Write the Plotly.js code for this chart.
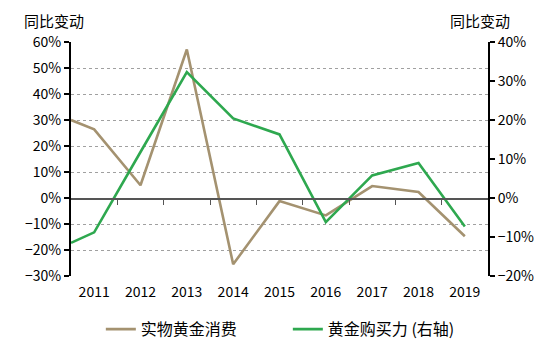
<!DOCTYPE html>
<html><head><meta charset="utf-8">
<script src="https://cdn.plot.ly/plotly-3.0.1.min.js"></script>
<style>html,body{margin:0;padding:0;background:#fff}#c{width:554px;height:352px}</style>
</head><body><div id="c"></div>
<script>
// categories (years); first data point sits at the left edge of the plot
const years = ['2011','2012','2013','2014','2015','2016','2017','2018','2019'];
const xPos = [0, 0.5, 1.5, 2.5, 3.5, 4.5, 5.5, 6.5, 7.5, 8.5];
// 实物黄金消费 (left axis, %)
const physicalGold = [30.0, 26.4, 4.9, 57.1, -25.5, -1.2, -6.7, 4.6, 2.3, -14.7];
// 黄金购买力 (right axis, %)
const goldPower = [-11.5, -8.8, 11.8, 32.3, 20.4, 16.3, -6.2, 5.8, 9.0, -7.3];
const boundaries = [1, 2, 3, 4, 5, 6, 7, 8];
const labelPos = [0.5, 1.5, 2.5, 3.5, 4.5, 5.5, 6.5, 7.5, 8.5];

const F = '"Noto Sans CJK SC", "Open Sans", sans-serif';
const traces = [
  {x: xPos, y: physicalGold.map(v => v / 100), name: '实物黄金消费', type: 'scatter', mode: 'lines',
   line: {color: '#A49270', width: 2.6}, yaxis: 'y'},
  {x: xPos, y: goldPower.map(v => v / 100), name: '黄金购买力 (右轴)', type: 'scatter', mode: 'lines',
   line: {color: '#2EA84F', width: 2.6}, yaxis: 'y2'},
  {x: [0], y: [0], xaxis: 'x2', yaxis: 'y', showlegend: false, hoverinfo: 'skip',
   mode: 'markers', marker: {opacity: 0}}
];
const layout = {
  width: 554, height: 352,
  margin: {l: 71, r: 66, t: 42, b: 76, autoexpand: false},
  paper_bgcolor: '#fff', plot_bgcolor: '#fff',
  font: {family: F, size: 13, color: '#000'},
  showlegend: true,
  legend: {orientation: 'h', x: 0.52, xanchor: 'center', y: -0.155, yanchor: 'top',
           font: {family: F, size: 16, color: '#000'}, traceorder: 'normal', itemwidth: 30,
           entrywidth: 142},
  xaxis: {range: [0, 9], tickvals: labelPos, ticktext: years, ticks: '', showgrid: false,
          zeroline: false, showline: false, tickfont: {family: F, size: 14}, fixedrange: true,
          ticklabelstandoff: 6},
  xaxis2: {range: [0, 9], overlaying: 'x', anchor: 'free', position: 1/3, side: 'bottom',
           tickvals: boundaries, ticks: 'outside', ticklen: 5, tickcolor: '#555', tickwidth: 1,
           showticklabels: false, showline: true, linecolor: '#555', linewidth: 1.5,
           showgrid: false, zeroline: false},
  yaxis: {range: [-0.3, 0.6], dtick: 0.1, tickformat: '.0%', showgrid: true,
          gridcolor: '#a0a0a0', griddash: 'dot', gridwidth: 1, zeroline: false,
          showline: true, linecolor: '#000', linewidth: 2, ticks: 'outside', ticklen: 5,
          tickcolor: '#000', tickwidth: 1.5, tickfont: {family: F, size: 14}},
  yaxis2: {range: [-0.2, 0.4], dtick: 0.1, tickformat: '.0%', overlaying: 'y', side: 'right',
           showgrid: false, zeroline: false, showline: true, linecolor: '#000', linewidth: 2,
           ticks: 'outside', ticklen: 5, tickcolor: '#000', tickwidth: 1.5,
           tickfont: {family: F, size: 14}},
  annotations: [
    {text: '同比变动', xref: 'paper', yref: 'paper', x: -0.1175, y: 1.0, yshift: 22, xanchor: 'left',
     yanchor: 'middle', showarrow: false, font: {family: F, size: 15}},
    {text: '同比变动', xref: 'paper', yref: 'paper', x: 1.058, y: 1.0, yshift: 22, xanchor: 'right',
     yanchor: 'middle', showarrow: false, font: {family: F, size: 15}}
  ]
};
Plotly.newPlot('c', traces, layout, {displayModeBar: false, staticPlot: true});
</script></body></html>
